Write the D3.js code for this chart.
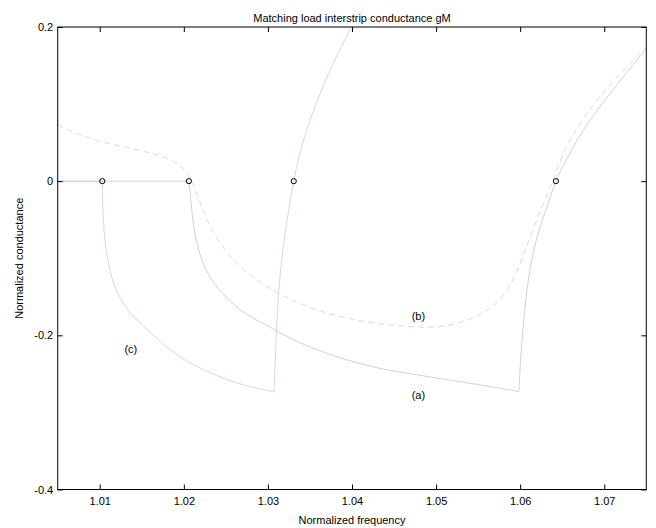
<!DOCTYPE html>
<html>
<head>
<meta charset="utf-8">
<script src="https://cdn.jsdelivr.net/npm/d3@7"></script>
<style>
  body { margin: 0; background: #fff; }
  svg text { font-family: "Liberation Sans", Arial, sans-serif; font-size: 11px; fill: #000; }
</style>
</head>
<body>
<div id="chart"></div>
<script>
// curve (a): solid gray
var aFreq = [1.005, 1.0206, 1.02078, 1.02102, 1.02137, 1.02191, 1.0227, 1.02357, 1.02467, 1.02595, 1.02745, 1.02903, 1.03102,
  1.03319, 1.03537, 1.03735, 1.03934, 1.04329, 1.04804, 1.05398, 1.05984,
  1.06013, 1.06066, 1.06135, 1.0623, 1.06325, 1.06425, 1.06587, 1.06785, 1.07062, 1.07339, 1.07486, 1.0752];
var aCond = [0, 0, -0.0189, -0.0449, -0.0708, -0.0942, -0.1162, -0.1318, -0.1464, -0.1603, -0.1724, -0.1824, -0.194,
  -0.2064, -0.2167, -0.2245, -0.2316, -0.2427, -0.2518, -0.2621, -0.2728,
  -0.2205, -0.1556, -0.1037, -0.0617, -0.0319, 0, 0.0351, 0.0719, 0.1128, 0.1503, 0.1698, 0.174];
var aCorners = [1, 20];

// curve (b): dashed gray
var bFreq = [1.005, 1.00729, 1.01006, 1.01284, 1.01561, 1.01799, 1.01957, 1.02048, 1.02107, 1.02167, 1.0223, 1.02349, 1.02547,
  1.02785, 1.03062, 1.03379, 1.03735, 1.04131, 1.04567, 1.04844, 1.05122, 1.05398, 1.05597, 1.05755, 1.05874, 1.05972,
  1.06052, 1.06218, 1.06385, 1.06547, 1.06745, 1.07022, 1.07339, 1.0752];
var bCond = [0.0732, 0.0615, 0.0518, 0.0446, 0.0375, 0.0297, 0.02, 0.0083, -0.0034, -0.0202, -0.0384, -0.0656, -0.0967,
  -0.1213, -0.1415, -0.1584, -0.172, -0.1817, -0.1875, -0.1895, -0.1875, -0.1791, -0.1681, -0.1538, -0.1357, -0.1136,
  -0.0916, -0.0449, 0, 0.0437, 0.0803, 0.1192, 0.1562, 0.176];
var bCorners = [];

// curve (c): solid blue
var cFreq = [1.005, 1.0103, 1.01033, 1.01044, 1.01062, 1.01098, 1.01145, 1.01204, 1.01276, 1.01359, 1.01479, 1.01656, 1.01834, 1.02036,
  1.02238, 1.02428, 1.02749, 1.03073,
  1.03102, 1.03129, 1.03177, 1.03236, 1.03307, 1.03379, 1.03498, 1.03652, 1.0383, 1.03993, 1.04044];
var cCond = [0, 0, -0.0254, -0.0514, -0.0773, -0.1032, -0.1253, -0.1434, -0.1577, -0.1707, -0.1836, -0.2018, -0.2186, -0.2336,
  -0.2446, -0.2537, -0.2654, -0.2732,
  -0.194, -0.1422, -0.0903, -0.0449, 0, 0.0355, 0.0783, 0.1215, 0.1652, 0.199, 0.209];
var cCorners = [1, 17];

// zero crossings marked with circles
var zeroFreq = [1.0103, 1.0206, 1.03307, 1.06425];

var xTicks = [1.01, 1.02, 1.03, 1.04, 1.05, 1.06, 1.07];
var xTickLabels = ["1.01", "1.02", "1.03", "1.04", "1.05", "1.06", "1.07"];
var yTicks = [-0.4, -0.2, 0, 0.2];
var yTickLabels = ["-0.4", "-0.2", "0", "0.2"];

var curveNames = ["(a)", "(b)", "(c)"];
var curveLabelAt = [[1.0479, -0.282], [1.0479, -0.180], [1.0137, -0.2226]];

var width = 656, height = 528;
var axL = 57.7, axR = 646.3, axT = 27, axB = 489.5;

var x = d3.scaleLinear().domain([1.005, 1.075]).range([axL, axR]);
var y = d3.scaleLinear().domain([-0.4, 0.2]).range([axB, axT]);

var svg = d3.select("#chart").append("svg")
  .attr("width", width)
  .attr("height", height);

svg.append("clipPath").attr("id", "plot-clip")
  .append("rect")
  .attr("x", axL).attr("y", axT)
  .attr("width", axR - axL).attr("height", axB - axT);

var line = d3.line()
  .x(d => x(d[0]))
  .y(d => y(d[1]))
  .curve(d3.curveCatmullRom.alpha(0.5));

// split a series at its sharp corners so the smoothing keeps them sharp
function pieces(fs, cs, corners) {
  var pts = fs.map((f, i) => [f, cs[i]]);
  var cuts = [0].concat(corners, [pts.length - 1]);
  var out = [];
  for (var k = 0; k < cuts.length - 1; k++) out.push(pts.slice(cuts[k], cuts[k + 1] + 1));
  return out;
}

var plot = svg.append("g").attr("clip-path", "url(#plot-clip)");

function drawCurve(fs, cs, corners, color, dash) {
  plot.append("path")
    .attr("d", pieces(fs, cs, corners).map(p => line(p)).join(""))
    .attr("fill", "none")
    .attr("stroke", color)
    .attr("stroke-width", 0.8)
    .attr("stroke-dasharray", dash);
}

drawCurve(bFreq, bCond, bCorners, "#cfcfcf", "6,4");
drawCurve(aFreq, aCond, aCorners, "#c6c6c6", null);
drawCurve(cFreq, cCond, cCorners, "#c8c8ff", null);

plot.selectAll(".zero")
  .data(zeroFreq).enter()
  .append("circle")
  .attr("class", "zero")
  .attr("cx", d => x(d))
  .attr("cy", y(0))
  .attr("r", 2.6)
  .attr("fill", "none")
  .attr("stroke", "#000")
  .attr("stroke-width", 1);

/* axes, MATLAB style: box with inward ticks */
var tickLen = 5;
var xAxisB = d3.axisBottom(x).tickValues(xTicks).tickSize(-tickLen).tickPadding(8)
  .tickFormat((d, i) => xTickLabels[i]);
var xAxisT = d3.axisTop(x).tickValues(xTicks).tickSize(-tickLen).tickFormat("");
var yAxisL = d3.axisLeft(y).tickValues(yTicks).tickSize(-tickLen).tickPadding(4.5)
  .tickFormat((d, i) => yTickLabels[i]);
var yAxisR = d3.axisRight(y).tickValues(yTicks).tickSize(-tickLen).tickFormat("");

function styleAxis(g) {
  g.select(".domain").remove();
  g.selectAll("line").attr("stroke", "#000");
  g.selectAll("text").style("font-family", "Liberation Sans, Arial, sans-serif").style("font-size", "11px");
}

svg.append("g").attr("transform", `translate(0,${axB})`).call(xAxisB).call(styleAxis);
svg.append("g").attr("transform", `translate(0,${axT})`).call(xAxisT).call(styleAxis);
svg.append("g").attr("transform", `translate(${axL},0)`).call(yAxisL).call(styleAxis);
svg.append("g").attr("transform", `translate(${axR},0)`).call(yAxisR).call(styleAxis);

svg.append("rect")
  .attr("x", axL).attr("y", axT)
  .attr("width", axR - axL).attr("height", axB - axT)
  .attr("fill", "none")
  .attr("stroke", "#000")
  .attr("stroke-width", 1);

svg.selectAll(".curve-label")
  .data(curveNames).enter()
  .append("text")
  .attr("class", "curve-label")
  .attr("x", (d, i) => x(curveLabelAt[i][0]))
  .attr("y", (d, i) => y(curveLabelAt[i][1]))
  .attr("text-anchor", "middle")
  .text(d => d);

svg.append("text")
  .attr("x", (axL + axR) / 2)
  .attr("y", 22)
  .attr("text-anchor", "middle")
  .text("Matching load interstrip conductance gM");

svg.append("text")
  .attr("x", (axL + axR) / 2)
  .attr("y", 524)
  .attr("text-anchor", "middle")
  .text("Normalized frequency");

svg.append("text")
  .attr("transform", `translate(23,${(axT + axB) / 2}) rotate(-90)`)
  .attr("text-anchor", "middle")
  .text("Normalized conductance");
</script>
</body>
</html>
